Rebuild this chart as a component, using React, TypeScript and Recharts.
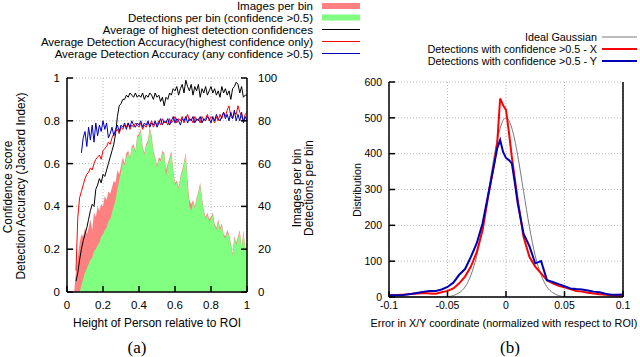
import React from "react";
import { ComposedChart, LineChart, Area, Line, XAxis, YAxis, CartesianGrid } from "recharts";

// ─────────────────────────────────────────
// (a) per-bin data, x = person height relative to ROI
// ─────────────────────────────────────────
const heightBins = [
  0.04, 0.05, 0.06, 0.07, 0.08, 0.09, 0.10, 0.11, 0.12, 0.13,
  0.14, 0.15, 0.16, 0.17, 0.18, 0.19, 0.20, 0.21, 0.22, 0.23,
  0.24, 0.25, 0.26, 0.27, 0.28, 0.29, 0.30, 0.31, 0.32, 0.33,
  0.34, 0.35, 0.36, 0.37, 0.38, 0.39, 0.40, 0.41, 0.42, 0.43,
  0.44, 0.45, 0.46, 0.47, 0.48, 0.49, 0.50, 0.51, 0.52, 0.53,
  0.54, 0.55, 0.56, 0.57, 0.58, 0.59, 0.60, 0.61, 0.62, 0.63,
  0.64, 0.65, 0.66, 0.67, 0.68, 0.69, 0.70, 0.71, 0.72, 0.73,
  0.74, 0.75, 0.76, 0.77, 0.78, 0.79, 0.80, 0.81, 0.82, 0.83,
  0.84, 0.85, 0.86, 0.87, 0.88, 0.89, 0.90, 0.91, 0.92, 0.93,
  0.94, 0.95, 0.96, 0.97, 0.98, 0.99, 1.00,
];

const imagesPerBin = [
  0, 10, 16, 23, 27, 26, 30, 27, 30, 34,
  29, 37, 35, 40, 38, 41, 40, 45, 43, 47,
  46, 49, 52, 51, 57, 55, 59, 63, 60, 65,
  66, 63, 68, 69, 66, 73, 74, 76, 68, 65,
  69, 71, 77, 73, 66, 63, 59, 63, 62, 66,
  65, 57, 60, 63, 66, 57, 51, 52, 49, 54,
  57, 61, 65, 52, 43, 41, 43, 40, 44, 47,
  51, 44, 38, 35, 37, 34, 35, 37, 32, 30,
  34, 30, 32, 27, 26, 29, 27, 23, 18, 26,
  23, 26, 29, 20, 29, 20, 23,
];

const detectionsPerBin = [
  null, null, null, 0, 3, 6, 9, 11, 13, 15,
  16, 19, 20, 22, 23, 26, 27, 29, 30, 33,
  34, 37, 40, 43, 48, 52, 56, 61, 59, 63,
  65, 62, 67, 68, 65, 72, 73, 75, 67, 64,
  68, 70, 76, 72, 65, 62, 58, 62, 61, 65,
  64, 54, 59, 62, 65, 56, 50, 51, 48, 53,
  56, 60, 64, 50, 40, 38, 42, 39, 43, 46,
  50, 43, 37, 34, 36, 33, 34, 36, 31, 29,
  33, 29, 31, 26, 25, 28, 26, 22, 17, 25,
  22, 25, 28, 19, 28, 19, 22,
];

const highestConfidence = [
  null, 0.05, 0.09, 0.15, 0.20, 0.24, 0.27, 0.30, 0.34, 0.38,
  0.41, 0.40, 0.48, 0.50, 0.53, 0.51, 0.55, 0.54, 0.57, 0.60,
  0.63, 0.66, 0.69, 0.74, 0.82, 0.87, 0.88, 0.90, 0.90, 0.92,
  0.91, 0.93, 0.92, 0.91, 0.93, 0.91, 0.92, 0.91, 0.93, 0.90,
  0.92, 0.91, 0.93, 0.92, 0.90, 0.93, 0.91, 0.92, 0.89, 0.91,
  0.87, 0.91, 0.90, 0.93, 0.92, 0.95, 0.94, 0.96, 0.92, 0.95,
  0.97, 0.93, 0.99, 0.96, 0.94, 0.97, 0.92, 0.96, 0.94, 0.97,
  0.91, 0.95, 0.93, 0.96, 0.92, 0.94, 0.96, 0.93, 0.95, 0.92,
  0.94, 0.91, 0.96, 0.93, 0.95, 0.92, 0.94, 0.90, 0.95, 0.96,
  0.98, 0.97, 0.93, 0.96, 0.91, 0.92, 0.92,
];

const accuracyHighest = [
  null, 0.10, 0.35, 0.44, 0.47, 0.50, 0.53, 0.55, 0.56, 0.58,
  0.57, 0.60, 0.62, 0.63, 0.64, 0.62, 0.66, 0.67, 0.68, 0.70,
  0.69, 0.72, 0.74, 0.75, 0.76, 0.74, 0.77, 0.76, 0.78, 0.77,
  0.79, 0.76, 0.78, 0.77, 0.79, 0.78, 0.77, 0.79, 0.76, 0.78,
  0.77, 0.79, 0.78, 0.80, 0.77, 0.79, 0.78, 0.80, 0.78, 0.81,
  0.79, 0.80, 0.78, 0.81, 0.79, 0.80, 0.82, 0.79, 0.81, 0.80,
  0.82, 0.79, 0.81, 0.83, 0.80, 0.81, 0.79, 0.82, 0.80, 0.81,
  0.79, 0.82, 0.80, 0.81, 0.83, 0.80, 0.82, 0.81, 0.79, 0.82,
  0.80, 0.83, 0.81, 0.84, 0.82, 0.85, 0.87, 0.82, 0.81, 0.84,
  0.83, 0.87, 0.84, 0.82, 0.80, 0.83, 0.84,
];

const accuracyAny = [
  null, null, null, null, 0.65, 0.72, 0.75, 0.68, 0.77, 0.71,
  0.78, 0.70, 0.79, 0.73, 0.78, 0.75, 0.80, 0.76, 0.79, 0.72,
  0.74, 0.77, 0.73, 0.76, 0.78, 0.75, 0.78, 0.77, 0.79, 0.76,
  0.79, 0.77, 0.80, 0.78, 0.77, 0.79, 0.78, 0.80, 0.77, 0.79,
  0.78, 0.80, 0.77, 0.79, 0.78, 0.80, 0.77, 0.79, 0.81, 0.78,
  0.80, 0.79, 0.81, 0.78, 0.80, 0.82, 0.79, 0.81, 0.80, 0.78,
  0.81, 0.80, 0.82, 0.79, 0.81, 0.80, 0.82, 0.79, 0.81, 0.80,
  0.82, 0.79, 0.81, 0.80, 0.82, 0.81, 0.79, 0.82, 0.80, 0.83,
  0.81, 0.80, 0.82, 0.84, 0.81, 0.83, 0.80, 0.84, 0.81, 0.85,
  0.80, 0.83, 0.80, 0.84, 0.79, 0.82, 0.80,
];

const heightTicks = [0, 0.2, 0.4, 0.6, 0.8, 1];
const scoreTicks = [0, 0.2, 0.4, 0.6, 0.8, 1];
const countTicks = [0, 20, 40, 60, 80, 100];

// ─────────────────────────────────────────
// (b) error distribution
// ─────────────────────────────────────────
const errorBins = [
  -0.1, -0.095, -0.09, -0.085, -0.08, -0.075, -0.07, -0.065, -0.06, -0.055,
  -0.05, -0.045, -0.04, -0.035, -0.03, -0.025, -0.02, -0.015, -0.01, -0.0075,
  -0.005, -0.0025, 0, 0.0025, 0.005, 0.0075, 0.01, 0.015, 0.02, 0.025,
  0.03, 0.035, 0.04, 0.045, 0.05, 0.055, 0.06, 0.065, 0.07, 0.075,
  0.08, 0.085, 0.09, 0.095, 0.1,
];

const idealGaussian = [
  0, 0, 0, 0, 0, 0, 0, 0, 0, 0,
  1, 4, 12, 28, 61, 115, 196, 295, 395, 438,
  471, 493, 500, 493, 471, 438, 395, 295, 196, 115,
  61, 28, 12, 4, 1, 0, 0, 0, 0, 0,
  0, 0, 0, 0, 0,
];

const errorX = [
  5, 5, 6, 7, 9, 10, 11, 10, 9, 13,
  17, 24, 38, 57, 85, 125, 187, 285, 373, 430,
  554, 535, 522, 460, 390, 330, 271, 168, 112, 85,
  66, 47, 38, 31, 27, 22, 17, 15, 12, 10,
  8, 6, 5, 4, 4,
];

const errorY = [
  5, 5, 5, 7, 9, 12, 15, 17, 17, 21,
  28, 40, 62, 78, 112, 150, 206, 289, 373, 415,
  438, 405, 388, 382, 373, 320, 262, 177, 142, 94,
  100, 47, 42, 36, 30, 24, 22, 21, 18, 15,
  13, 9, 6, 6, 7,
];

const errorTicks = [-0.1, -0.05, 0, 0.05, 0.1];
const distTicks = [0, 100, 200, 300, 400, 500, 600];

const leftData = heightBins.map((x, i) => ({
  x,
  images: imagesPerBin[i],
  detections: detectionsPerBin[i],
  conf: highestConfidence[i],
  accHigh: accuracyHighest[i],
  accAny: accuracyAny[i],
}));

const rightData = errorBins.map((x, i) => ({
  x, gauss: idealGaussian[i], ex: errorX[i], ey: errorY[i],
}));

// ─────────────────────────────────────────
// Shared styles
// ─────────────────────────────────────────
const FONT = "'Liberation Sans', Arial, Helvetica, sans-serif";
const FRAME = { stroke: "#000", strokeWidth: 1.5 };
const GRID = { stroke: "#b8b8b8", strokeDasharray: "1 2" };
const blank = () => "";

function LeftChart() {
  const tick = { fill: "#000", fontSize: 11.5, fontFamily: FONT };
  return (
    <ComposedChart width={340} height={357} data={leftData}
      margin={{ top: 78, right: 63, bottom: 45, left: 37 }}>
      <CartesianGrid {...GRID} yAxisId="l" />
      <XAxis dataKey="x" type="number" domain={[0, 1]} ticks={heightTicks} height={20}
        tick={tick} axisLine={FRAME} tickLine={FRAME} tickSize={-6} tickMargin={15} />
      <XAxis xAxisId="top" orientation="top" type="number" domain={[0, 1]} ticks={heightTicks}
        height={0} axisLine={FRAME} tickLine={FRAME} tickSize={-6} tickFormatter={blank} />
      <YAxis yAxisId="l" type="number" domain={[0, 1]} ticks={scoreTicks} width={30}
        tick={tick} axisLine={FRAME} tickLine={FRAME} tickSize={-6} tickMargin={13} />
      <YAxis yAxisId="r" orientation="right" type="number" domain={[0, 100]} ticks={countTicks} width={30}
        tick={tick} axisLine={FRAME} tickLine={FRAME} tickSize={-6} tickMargin={17} />
      <Area yAxisId="r" dataKey="images" type="linear" fill="#ff8080" fillOpacity={1} stroke="none"
        isAnimationActive={false} />
      <Area yAxisId="r" dataKey="detections" type="linear" fill="#80ff80" fillOpacity={1} stroke="none"
        isAnimationActive={false} />
      <Line yAxisId="l" dataKey="conf" type="linear" stroke="#000" strokeWidth={1} dot={false}
        isAnimationActive={false} />
      <Line yAxisId="l" dataKey="accHigh" type="linear" stroke="#ff0000" strokeWidth={1} dot={false}
        isAnimationActive={false} />
      <Line yAxisId="l" dataKey="accAny" type="linear" stroke="#0000b8" strokeWidth={1} dot={false}
        isAnimationActive={false} />
    </ComposedChart>
  );
}

function RightChart() {
  const tick = { fill: "#000", fontSize: 10.5, fontFamily: FONT };
  return (
    <LineChart width={310} height={357} data={rightData}
      margin={{ top: 82, right: 16, bottom: 40, left: 29 }}>
      <CartesianGrid {...GRID} />
      <XAxis dataKey="x" type="number" domain={[-0.1, 0.1]} ticks={errorTicks} height={20}
        tick={tick} axisLine={FRAME} tickLine={FRAME} tickSize={-6} tickMargin={11} />
      <XAxis xAxisId="top" orientation="top" type="number" domain={[-0.1, 0.1]} ticks={errorTicks}
        height={0} axisLine={FRAME} tickLine={FRAME} tickSize={-6} tickFormatter={blank} />
      <YAxis type="number" domain={[0, 600]} ticks={distTicks} width={30}
        tick={tick} axisLine={FRAME} tickLine={FRAME} tickSize={-6} tickMargin={13} />
      <YAxis yAxisId="r" orientation="right" type="number" domain={[0, 600]} ticks={distTicks} width={1}
        axisLine={FRAME} tickLine={FRAME} tickSize={-6} tickFormatter={blank} />
      <Line dataKey="gauss" type="monotone" stroke="#7a7a7a" strokeWidth={1} dot={false}
        isAnimationActive={false} />
      <Line dataKey="ex" type="linear" stroke="#ff0000" strokeWidth={2} dot={false}
        isAnimationActive={false} />
      <Line dataKey="ey" type="linear" stroke="#0000b4" strokeWidth={2} dot={false}
        isAnimationActive={false} />
    </LineChart>
  );
}

// legend rows and texts drawn over both panels
function Annotations() {
  const t = { fontFamily: FONT, fontSize: 11.9, fill: "#000" };
  const lg = { fontFamily: FONT, fontSize: 11.5, fill: "#000" };
  const tr = { fontFamily: FONT, fontSize: 10.8, fill: "#000" };
  return (
    <svg width={640} height={357} style={{ position: "absolute", left: 0, top: 0, pointerEvents: "none" }}>
      {/* (a) legend */}
      <text {...lg} x={313} y={5.5} textAnchor="end" dominantBaseline="central">Images per bin</text>
      <rect x={322} y={3} width={38} height={6} fill="#ff8080" />
      <text {...lg} x={313} y={17.5} textAnchor="end" dominantBaseline="central">Detections per bin (confidence &gt;0.5)</text>
      <rect x={322} y={14.5} width={38} height={6} fill="#80ff80" />
      <text {...lg} x={313} y={29.5} textAnchor="end" dominantBaseline="central">Average of highest detection confidences</text>
      <line x1={322} x2={360} y1={29.5} y2={29.5} stroke="#000" strokeWidth={1} />
      <text {...lg} x={313} y={41.5} textAnchor="end" dominantBaseline="central">Average Detection Accuracy(highest confidence only)</text>
      <line x1={322} x2={360} y1={41.5} y2={41.5} stroke="#ff0000" strokeWidth={1} />
      <text {...lg} x={313} y={53.5} textAnchor="end" dominantBaseline="central">Average Detection Accuracy (any confidence &gt;0.5)</text>
      <line x1={322} x2={360} y1={53.5} y2={53.5} stroke="#0000b8" strokeWidth={1} />

      {/* (a) axis titles */}
      <text {...t} transform="translate(8,187) rotate(-90)" textAnchor="middle" dominantBaseline="central">Confidence score</text>
      <text {...t} transform="translate(21,186) rotate(-90)" textAnchor="middle" dominantBaseline="central">Detection Accuracy (Jaccard Index)</text>
      <text {...t} transform="translate(297,188) rotate(-90)" textAnchor="middle" dominantBaseline="central">Images per bin</text>
      <text {...t} transform="translate(309,188) rotate(-90)" textAnchor="middle" dominantBaseline="central">Detections per bin</text>
      <text {...t} x={157} y={323} textAnchor="middle" dominantBaseline="central">Height of Person relative to ROI</text>
      <text x={137} y={347} textAnchor="middle" dominantBaseline="central"
        style={{ fontFamily: "'Liberation Serif', 'DejaVu Serif', serif", fontSize: 17 }}>(a)</text>

      {/* (b) legend */}
      <text {...tr} x={597} y={37} textAnchor="end" dominantBaseline="central">Ideal Gaussian</text>
      <line x1={602} x2={637} y1={37} y2={37} stroke="#7a7a7a" strokeWidth={1} />
      <text {...tr} x={597} y={49} textAnchor="end" dominantBaseline="central">Detections with confidence &gt;0.5 - X</text>
      <line x1={602} x2={637} y1={49} y2={49} stroke="#ff0000" strokeWidth={2} />
      <text {...tr} x={597} y={61} textAnchor="end" dominantBaseline="central">Detections with confidence &gt;0.5 - Y</text>
      <line x1={602} x2={637} y1={61} y2={61} stroke="#0000b4" strokeWidth={2} />

      {/* (b) axis titles */}
      <text {...tr} transform="translate(357,190) rotate(-90)" textAnchor="middle" dominantBaseline="central">Distribution</text>
      <text {...tr} x={504} y={323} textAnchor="middle" dominantBaseline="central">Error in X/Y coordinate (normalized with respect to ROI)</text>
      <text x={510} y={347} textAnchor="middle" dominantBaseline="central"
        style={{ fontFamily: "'Liberation Serif', 'DejaVu Serif', serif", fontSize: 17 }}>(b)</text>
    </svg>
  );
}

export default function App() {
  return (
    <div style={{ position: "absolute", left: 0, top: 0, width: 640, height: 357, background: "#fff", overflow: "hidden" }}>
      <div style={{ position: "absolute", left: 0, top: 0 }}>
        <LeftChart />
      </div>
      <div style={{ position: "absolute", left: 330, top: 0 }}>
        <RightChart />
      </div>
      <Annotations />
    </div>
  );
}
